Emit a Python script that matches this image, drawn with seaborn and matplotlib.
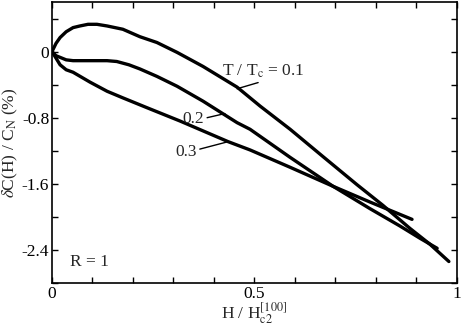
import numpy as np
import pandas as pd
import matplotlib.pyplot as plt
import seaborn as sns
from matplotlib.ticker import MultipleLocator, FuncFormatter

# curves: H / Hc2[100] vs dC/CN (%)
h_01 = [0, 0.01, 0.02, 0.035, 0.052, 0.069, 0.089, 0.111, 0.136, 0.175, 0.217, 0.259,
        0.309, 0.373, 0.457, 0.514, 0.588, 0.669, 0.753, 0.817, 0.884, 0.933, 0.980]
c_01 = [0, 0.10, 0.17, 0.24, 0.29, 0.31, 0.33, 0.33, 0.31, 0.27, 0.18, 0.11,
        -0.01, -0.18, -0.43, -0.66, -0.94, -1.27, -1.61, -1.86, -2.14, -2.33, -2.54]

h_02 = [0, 0.010, 0.020, 0.035, 0.052, 0.094, 0.136, 0.160, 0.190, 0.217, 0.259, 0.309,
        0.373, 0.457, 0.489, 0.588, 0.694, 0.785, 0.859, 0.909, 0.951]
c_02 = [0, -0.05, -0.07, -0.10, -0.11, -0.11, -0.11, -0.12, -0.16, -0.21, -0.30, -0.42,
        -0.60, -0.86, -0.94, -1.28, -1.63, -1.90, -2.11, -2.26, -2.38]

h_03 = [0, 0.010, 0.020, 0.035, 0.052, 0.094, 0.136, 0.175, 0.235, 0.316, 0.435, 0.489,
        0.588, 0.694, 0.785, 0.889]
c_03 = [0, -0.08, -0.16, -0.22, -0.25, -0.37, -0.48, -0.56, -0.68, -0.84, -1.09, -1.19,
        -1.40, -1.63, -1.82, -2.03]

temps = ["0.1", "0.2", "0.3"]

df = pd.concat([
    pd.DataFrame({"H": h, "C": c, "T": t})
    for h, c, t in zip([h_01, h_02, h_03], [c_01, c_02, c_03], temps)
])

sns.set_style("ticks")
plt.rcParams["font.family"] = ["Liberation Serif", "DejaVu Serif"]
plt.rcParams["mathtext.fontset"] = "stix"
plt.rcParams["axes.unicode_minus"] = False

fig = plt.figure(figsize=(4.63, 3.32), dpi=100)
ax = fig.add_axes([0.1123, 0.1476, 0.8747, 0.8464])

sns.lineplot(data=df, x="H", y="C", hue="T", palette=["black"] * 3, sort=False,
             estimator=None, linewidth=2.4, legend=False, ax=ax)

ax.set_xlim(0, 1)
ax.set_ylim(-2.8, 0.6)
ax.xaxis.set_major_locator(MultipleLocator(0.5))
ax.xaxis.set_minor_locator(MultipleLocator(0.1))
ax.yaxis.set_major_locator(MultipleLocator(0.8))
ax.yaxis.set_minor_locator(MultipleLocator(0.4))
ax.xaxis.set_major_formatter(FuncFormatter(lambda v, p: f"{v:g}"))
ax.yaxis.set_major_formatter(FuncFormatter(lambda v, p: "0" if abs(v) < 1e-9 else f"{v:.1f}"))
ax.tick_params(which="both", direction="in", top=True, right=True,
               length=4, width=1, labelsize=12.5, colors="black", pad=2)
for s in ax.spines.values():
    s.set_linewidth(1.2)
    s.set_color("black")

ax.set_xlabel(r"H / H$_{\mathrm{c2}}^{[100]}$", fontsize=12.5, labelpad=-1)
ax.set_ylabel(r"$\delta$C(H) / C$_{\mathrm{N}}$ (%)", fontsize=12.5, labelpad=1)

# curve labels with leader lines
ax.text(0.42, -0.29, r"T / T$_{\mathrm{c}}$ = 0.1", fontsize=12.5, ha="left", va="baseline")
ax.plot([0.457, 0.509], [-0.45, -0.375], color="black", lw=1)
ax.text(0.376, -0.81, "0.2", fontsize=12.5, ha="right", va="center")
ax.plot([0.383, 0.427], [-0.80, -0.75], color="black", lw=1)
ax.text(0.358, -1.22, "0.3", fontsize=12.5, ha="right", va="center")
ax.plot([0.365, 0.435], [-1.18, -1.09], color="black", lw=1)
ax.text(0.044, -2.595, "R = 1", fontsize=12.5, ha="left", va="baseline")

fig.savefig("out.png", dpi=100)
